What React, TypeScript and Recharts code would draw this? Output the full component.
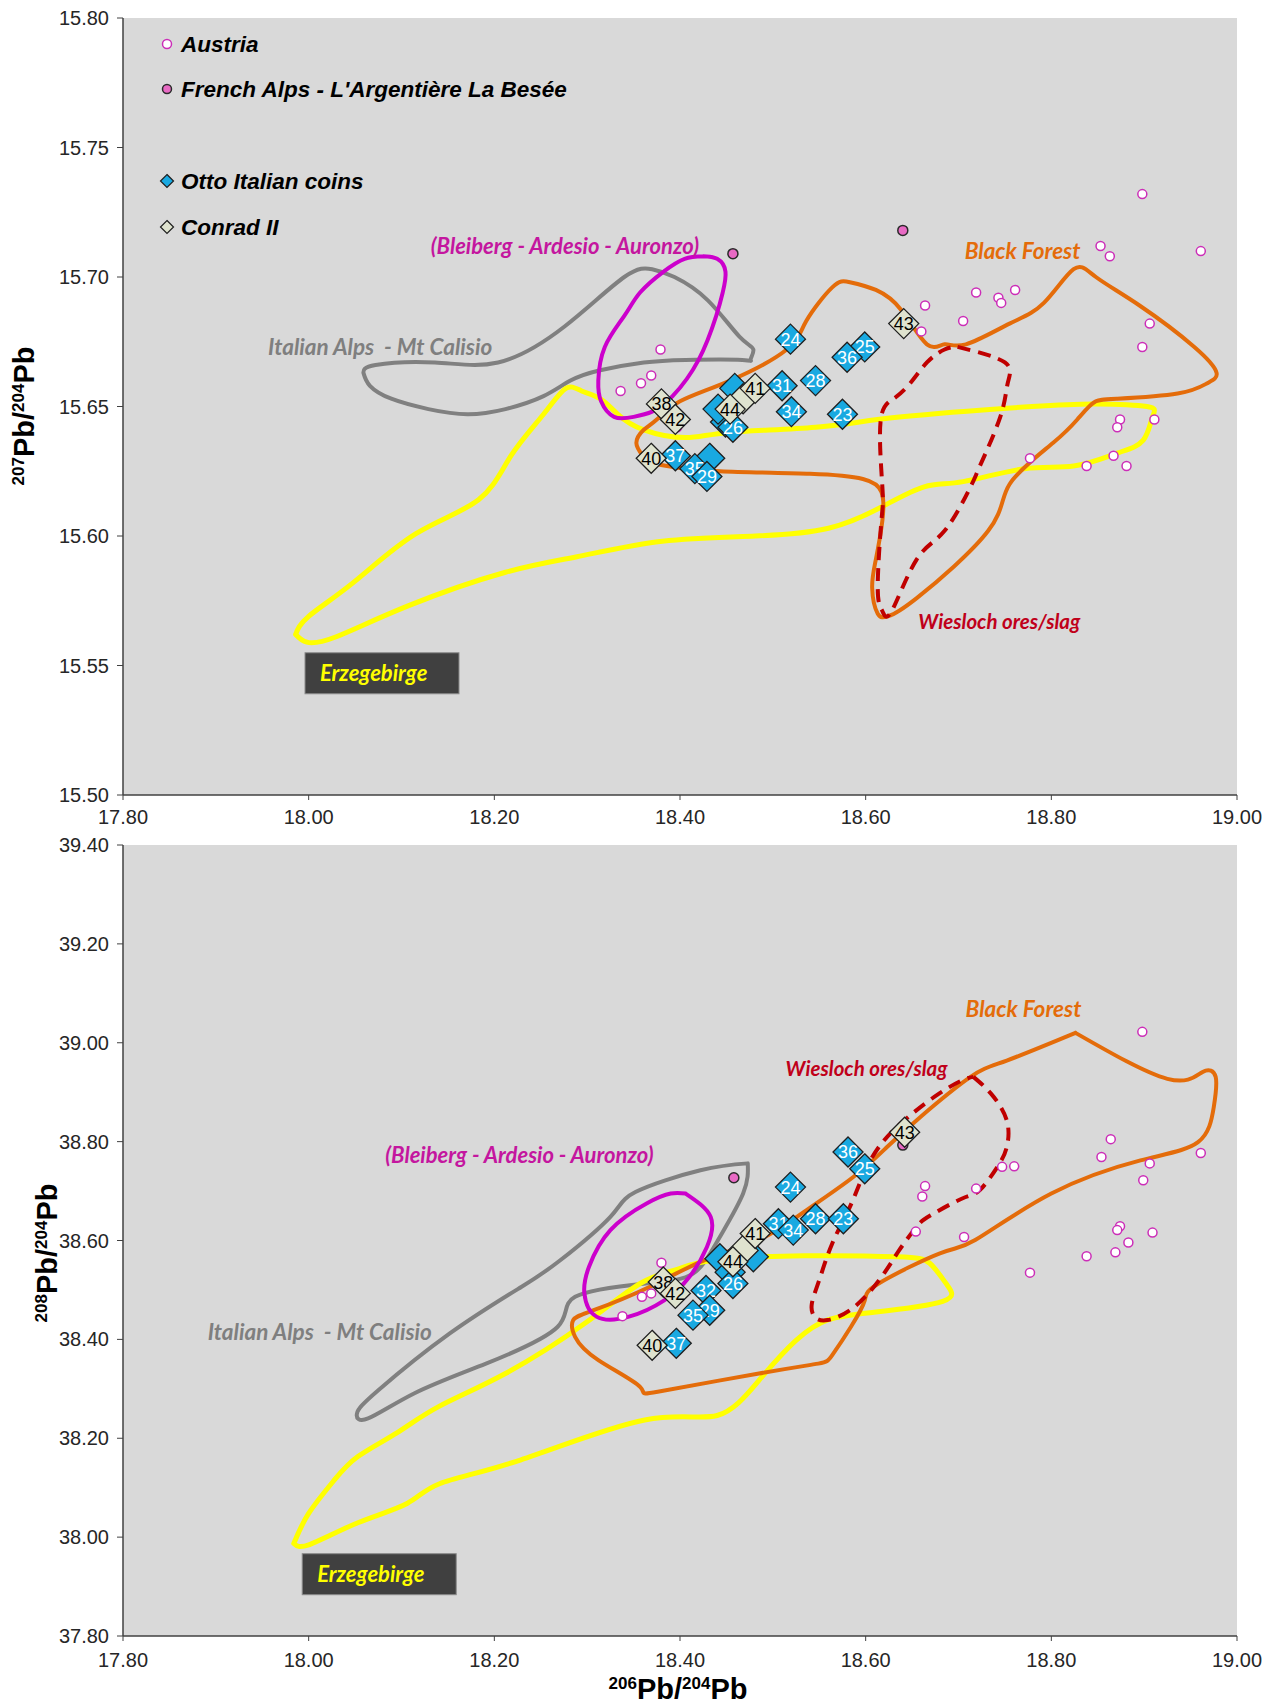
import React from 'react';
import { ScatterChart, Scatter, XAxis, YAxis, CartesianGrid } from 'recharts';

// ---------- axis ticks ----------
const xTicks = [17.8, 18.0, 18.2, 18.4, 18.6, 18.8, 19.0];
const y207Ticks = [15.5, 15.55, 15.6, 15.65, 15.7, 15.75, 15.8];
const y208Ticks = [37.8, 38.0, 38.2, 38.4, 38.6, 38.8, 39.0, 39.2, 39.4];

// ---------- 207Pb/204Pb vs 206Pb/204Pb ----------
const austria207 = [
  [18.898, 15.732], [18.853, 15.712], [18.863, 15.708], [18.961, 15.710], [18.664, 15.689],
  [18.719, 15.694], [18.743, 15.692], [18.746, 15.690], [18.761, 15.695], [18.705, 15.683],
  [18.660, 15.679], [18.906, 15.682], [18.898, 15.673], [18.874, 15.645], [18.871, 15.642],
  [18.911, 15.645], [18.777, 15.630], [18.838, 15.627], [18.867, 15.631], [18.881, 15.627],
  [18.379, 15.672], [18.369, 15.662], [18.358, 15.659], [18.336, 15.656], [18.397, 15.642],
];
const frenchAlps207 = [[18.457, 15.709], [18.640, 15.718]];
const otto207 = [
  { id: '', x: 18.432, y: 15.630 }, { id: '', x: 18.449, y: 15.644 }, { id: '', x: 18.441, y: 15.649 },
  { id: '', x: 18.459, y: 15.657 }, { id: '24', x: 18.519, y: 15.676 }, { id: '25', x: 18.599, y: 15.673 },
  { id: '36', x: 18.580, y: 15.669 }, { id: '31', x: 18.510, y: 15.658 }, { id: '28', x: 18.546, y: 15.660 },
  { id: '34', x: 18.520, y: 15.648 }, { id: '23', x: 18.575, y: 15.647 }, { id: '26', x: 18.457, y: 15.642 },
  { id: '37', x: 18.395, y: 15.631 }, { id: '35', x: 18.416, y: 15.626 }, { id: '29', x: 18.429, y: 15.623 },
];
const conrad207 = [
  { id: '', x: 18.468, y: 15.653 }, { id: '41', x: 18.481, y: 15.657 }, { id: '44', x: 18.454, y: 15.649 },
  { id: '38', x: 18.380, y: 15.651 }, { id: '42', x: 18.395, y: 15.645 }, { id: '40', x: 18.369, y: 15.630 },
  { id: '43', x: 18.641, y: 15.682 },
];
const italianAlps207 = [
  [18.059, 15.663], [18.072, 15.666], [18.136, 15.667], [18.204, 15.667], [18.276, 15.681], [18.340, 15.700],
  [18.370, 15.703], [18.394, 15.700], [18.430, 15.691], [18.464, 15.677], [18.479, 15.672], [18.476, 15.668],
  [18.467, 15.668], [18.406, 15.668], [18.361, 15.667], [18.314, 15.664], [18.282, 15.660], [18.253, 15.654],
  [18.212, 15.649], [18.171, 15.647], [18.129, 15.649], [18.089, 15.653], [18.066, 15.658], [18.059, 15.663],
];
const bleiberg207 = [
  [18.425, 15.708], [18.440, 15.707], [18.449, 15.702], [18.446, 15.694], [18.439, 15.685], [18.420, 15.668],
  [18.392, 15.654], [18.370, 15.648], [18.350, 15.646], [18.329, 15.646], [18.315, 15.652], [18.312, 15.660],
  [18.319, 15.673], [18.340, 15.685], [18.357, 15.694], [18.382, 15.702], [18.405, 15.707], [18.425, 15.708],
];
const erz207 = [
  [17.986, 15.562], [18.000, 15.569], [18.048, 15.582], [18.116, 15.601], [18.183, 15.614], [18.218, 15.631],
  [18.253, 15.647], [18.277, 15.657], [18.294, 15.656], [18.314, 15.653], [18.333, 15.647], [18.361, 15.641],
  [18.406, 15.638], [18.453, 15.640], [18.546, 15.642], [18.639, 15.646], [18.779, 15.650], [18.848, 15.651],
  [18.903, 15.650], [18.909, 15.646], [18.899, 15.637], [18.871, 15.632], [18.824, 15.627], [18.771, 15.626],
  [18.705, 15.621], [18.663, 15.619], [18.616, 15.611], [18.560, 15.603], [18.481, 15.600], [18.381, 15.598],
  [18.289, 15.592], [18.212, 15.586], [18.107, 15.573], [18.029, 15.561], [17.998, 15.559], [17.986, 15.562],
];
const blackForest207 = [
  [18.360, 15.631], [18.353, 15.636], [18.361, 15.641], [18.375, 15.645], [18.400, 15.652], [18.454, 15.660],
  [18.515, 15.672], [18.536, 15.683], [18.564, 15.696], [18.583, 15.698], [18.611, 15.695], [18.639, 15.687],
  [18.666, 15.674], [18.685, 15.674], [18.708, 15.674], [18.755, 15.682], [18.792, 15.690], [18.824, 15.703],
  [18.848, 15.700], [18.895, 15.689], [18.954, 15.673], [18.978, 15.663], [18.968, 15.659], [18.936, 15.655],
  [18.871, 15.653], [18.848, 15.652], [18.838, 15.649], [18.828, 15.645], [18.802, 15.636], [18.755, 15.620],
  [18.732, 15.602], [18.655, 15.576], [18.624, 15.569], [18.613, 15.570], [18.607, 15.580], [18.611, 15.591],
  [18.618, 15.606], [18.617, 15.617], [18.597, 15.622], [18.540, 15.624], [18.443, 15.625], [18.386, 15.627],
  [18.367, 15.629], [18.360, 15.631],
];
const wiesloch207 = [
  [18.699, 15.673], [18.750, 15.667], [18.753, 15.659], [18.745, 15.646], [18.723, 15.627], [18.713, 15.619],
  [18.685, 15.602], [18.655, 15.591], [18.628, 15.571], [18.618, 15.571], [18.613, 15.580], [18.617, 15.606],
  [18.618, 15.619], [18.616, 15.644], [18.630, 15.653], [18.648, 15.659], [18.666, 15.667], [18.685, 15.672],
  [18.699, 15.673],
];
const notes207 = [
  { key: 'bleiberg', text: '(Bleiberg - Ardesio - Auronzo)', x: 18.276, y: 15.712 },
  { key: 'italian', text: 'Italian Alps  - Mt Calisio', x: 18.077, y: 15.673 },
  { key: 'blackforest', text: 'Black Forest', x: 18.769, y: 15.710 },
  { key: 'wiesloch', text: 'Wiesloch ores/slag', x: 18.744, y: 15.567 },
];
const erzLabel207 = [{ text: 'Erzegebirge', x: 18.079, y: 15.547 }];

// ---------- 208Pb/204Pb vs 206Pb/204Pb ----------
const austria208 = [
  [18.898, 39.022], [18.864, 38.805], [18.854, 38.769], [18.961, 38.777], [18.906, 38.756],
  [18.899, 38.722], [18.747, 38.749], [18.760, 38.750], [18.664, 38.710], [18.661, 38.689],
  [18.719, 38.705], [18.654, 38.618], [18.706, 38.607], [18.874, 38.629], [18.871, 38.621],
  [18.883, 38.596], [18.909, 38.616], [18.838, 38.568], [18.869, 38.576], [18.777, 38.535],
  [18.380, 38.555], [18.359, 38.486], [18.369, 38.493], [18.338, 38.447], [18.396, 38.490],
];
const frenchAlps208 = [[18.458, 38.727], [18.640, 38.793]];
const otto208 = [
  { id: '36', x: 18.581, y: 38.779 }, { id: '25', x: 18.599, y: 38.745 }, { id: '24', x: 18.519, y: 38.708 },
  { id: '31', x: 18.506, y: 38.634 }, { id: '34', x: 18.522, y: 38.621 }, { id: '28', x: 18.546, y: 38.644 },
  { id: '23', x: 18.576, y: 38.644 }, { id: '', x: 18.443, y: 38.563 }, { id: '', x: 18.479, y: 38.567 },
  { id: '', x: 18.454, y: 38.536 }, { id: '26', x: 18.457, y: 38.513 }, { id: '32', x: 18.428, y: 38.499 },
  { id: '29', x: 18.432, y: 38.459 }, { id: '35', x: 18.414, y: 38.449 }, { id: '37', x: 18.396, y: 38.392 },
];
const conrad208 = [
  { id: '', x: 18.468, y: 38.580 }, { id: '41', x: 18.481, y: 38.614 }, { id: '44', x: 18.457, y: 38.557 },
  { id: '38', x: 18.382, y: 38.516 }, { id: '42', x: 18.395, y: 38.493 }, { id: '40', x: 18.370, y: 38.388 },
  { id: '43', x: 18.642, y: 38.819 },
];
const italianAlps208 = [
  [18.473, 38.756], [18.422, 38.742], [18.352, 38.698], [18.325, 38.648], [18.271, 38.560], [18.229, 38.506],
  [18.152, 38.412], [18.075, 38.297], [18.052, 38.250], [18.064, 38.240], [18.114, 38.291], [18.191, 38.351],
  [18.268, 38.425], [18.287, 38.486], [18.363, 38.513], [18.414, 38.533], [18.441, 38.601], [18.468, 38.695],
  [18.473, 38.756],
];
const bleiberg208 = [
  [18.406, 38.695], [18.433, 38.648], [18.429, 38.587], [18.410, 38.526], [18.383, 38.479], [18.345, 38.446],
  [18.310, 38.446], [18.297, 38.493], [18.302, 38.547], [18.325, 38.621], [18.364, 38.675], [18.390, 38.695],
  [18.406, 38.695],
];
const erz208 = [
  [17.984, 37.987], [18.000, 38.048], [18.027, 38.114], [18.053, 38.163], [18.095, 38.211], [18.140, 38.264],
  [18.213, 38.332], [18.298, 38.433], [18.358, 38.514], [18.396, 38.541], [18.436, 38.560], [18.534, 38.569],
  [18.634, 38.567], [18.669, 38.554], [18.687, 38.512], [18.683, 38.477], [18.609, 38.455], [18.560, 38.440],
  [18.525, 38.398], [18.485, 38.317], [18.440, 38.246], [18.362, 38.237], [18.228, 38.156], [18.141, 38.108],
  [18.106, 38.068], [18.053, 38.029], [18.001, 37.985], [17.984, 37.987],
];
const blackForest208 = [
  [18.826, 39.020], [18.925, 38.927], [18.963, 38.941], [18.977, 38.931], [18.975, 38.870], [18.958, 38.799],
  [18.896, 38.762], [18.800, 38.695], [18.718, 38.601], [18.680, 38.574], [18.614, 38.513], [18.599, 38.479],
  [18.584, 38.425], [18.564, 38.368], [18.549, 38.351], [18.485, 38.331], [18.376, 38.294], [18.357, 38.304],
  [18.312, 38.358], [18.287, 38.405], [18.285, 38.439], [18.307, 38.459], [18.367, 38.506], [18.426, 38.560],
  [18.485, 38.601], [18.536, 38.661], [18.587, 38.729], [18.623, 38.789], [18.659, 38.850], [18.713, 38.931],
  [18.752, 38.964], [18.826, 39.020],
];
const wiesloch208 = [
  [18.716, 38.931], [18.735, 38.897], [18.752, 38.843], [18.752, 38.789], [18.742, 38.749], [18.723, 38.702],
  [18.704, 38.685], [18.670, 38.651], [18.655, 38.628], [18.636, 38.580], [18.617, 38.526], [18.588, 38.466],
  [18.559, 38.439], [18.545, 38.446], [18.542, 38.472], [18.550, 38.520], [18.564, 38.594], [18.583, 38.668],
  [18.598, 38.735], [18.617, 38.796], [18.646, 38.850], [18.679, 38.897], [18.704, 38.924], [18.716, 38.931],
];
const notes208 = [
  { key: 'bleiberg', text: '(Bleiberg - Ardesio - Auronzo)', x: 18.227, y: 38.772 },
  { key: 'italian', text: 'Italian Alps  - Mt Calisio', x: 18.012, y: 38.415 },
  { key: 'blackforest', text: 'Black Forest', x: 18.770, y: 39.069 },
  { key: 'wiesloch', text: 'Wiesloch ores/slag', x: 18.601, y: 38.948 },
];
const erzLabel208 = [{ text: 'Erzegebirge', x: 18.076, y: 37.925 }];

// ---------- styles ----------
const FONT = "'Liberation Sans', Arial, Helvetica, sans-serif";
const NOTE_FONT = "Lato, 'Open Sans', 'Noto Sans', sans-serif";
const C = {
  bg: '#d9d9d9',
  axis: '#404040',
  gray: '#808080',
  magenta: '#cc00cc',
  yellow: '#ffff00',
  orange: '#e46c0a',
  darkRed: '#c00000',
  austria: '#cc2eb8',
  french: '#e86ac4',
  otto: '#19a9e1',
  conrad: '#dfe3cf',
};
const NOTE_STYLES: Record<string, { color: string; size: number }> = {
  bleiberg: { color: '#c4169f', size: 22 },
  italian: { color: '#7f7f7f', size: 22.5 },
  blackforest: { color: '#e46c0a', size: 22.5 },
  wiesloch: { color: '#c0001a', size: 20.5 },
};

const toPts = (arr: number[][]) => arr.map(([x, y]) => ({ x, y }));

const NoShape = () => <g />;

const AustriaShape = (p: any) => (
  <circle cx={p.cx} cy={p.cy} r={4.5} fill="#ffffff" stroke={C.austria} strokeWidth={1.5} />
);
const FrenchShape = (p: any) => (
  <circle cx={p.cx} cy={p.cy} r={5} fill={C.french} stroke="#2a2a2a" strokeWidth={1.5} />
);
const makeDiamond = (fill: string, textColor: string) => (p: any) => {
  const { cx, cy, payload } = p;
  const h = 15;
  return (
    <g>
      <path
        d={`M${cx},${cy - h}L${cx + h},${cy}L${cx},${cy + h}L${cx - h},${cy}Z`}
        fill={fill}
        stroke="#1f1f1f"
        strokeWidth={1.3}
      />
      {payload.id ? (
        <text x={cx} y={cy} dy="0.36em" textAnchor="middle" fontSize={18} fontFamily={FONT} fill={textColor}>
          {payload.id}
        </text>
      ) : null}
    </g>
  );
};
const OttoShape = makeDiamond(C.otto, '#ffffff');
const ConradShape = makeDiamond(C.conrad, '#000000');

const NoteShape = (p: any) => {
  const st = NOTE_STYLES[p.payload.key];
  return (
    <text
      x={p.cx}
      y={p.cy}
      dy="0.35em"
      textAnchor="middle"
      fill={st.color}
      fontFamily={NOTE_FONT}
      fontWeight={700}
      fontStyle="italic"
      fontSize={st.size}
      style={{ whiteSpace: 'pre' }}
    >
      {p.payload.text}
    </text>
  );
};
const ErzShape = (p: any) => {
  const w = 154;
  const h = 41;
  return (
    <g>
      <rect x={p.cx - w / 2} y={p.cy - h / 2} width={w} height={h} fill="#404040" stroke="#8a8a8a" strokeWidth={1} />
      <text
        x={p.cx - w / 2 + 15}
        y={p.cy}
        dy="0.35em"
        fill="#ffff00"
        fontFamily={NOTE_FONT}
        fontWeight={700}
        fontStyle="italic"
        fontSize={22}
      >
        {p.payload.text}
      </text>
    </g>
  );
};

const outline = (data: number[][], stroke: string, width: number, dash?: string) => (
  <Scatter
    data={toPts(data)}
    shape={NoShape}
    lineJointType="natural"
    line={{
      stroke,
      strokeWidth: width,
      strokeDasharray: dash,
      strokeLinejoin: 'round',
      strokeLinecap: dash ? 'butt' : 'round',
    }}
    isAnimationActive={false}
    legendType="none"
  />
);

interface PanelProps {
  width: number;
  height: number;
  margin: { top: number; right: number; bottom: number; left: number };
  xHeight: number;
  xTickMargin: number;
  yDomain: [number, number];
  yTicks: number[];
  austria: number[][];
  french: number[][];
  otto: { id: string; x: number; y: number }[];
  conrad: { id: string; x: number; y: number }[];
  italian: number[][];
  bleiberg: number[][];
  erz: number[][];
  blackForest: number[][];
  wiesloch: number[][];
  notes: { key: string; text: string; x: number; y: number }[];
  erzLabel: { text: string; x: number; y: number }[];
}

const Panel = (pp: PanelProps) => (
  <ScatterChart width={pp.width} height={pp.height} margin={pp.margin}>
    <CartesianGrid horizontal={false} vertical={false} fill={C.bg} fillOpacity={1} stroke="none" />
    <XAxis
      type="number"
      dataKey="x"
      domain={[17.8, 19.0]}
      ticks={xTicks}
      interval={0}
      allowDataOverflow
      tickFormatter={(v: number) => v.toFixed(2)}
      height={pp.xHeight}
      tickSize={5}
      tickMargin={pp.xTickMargin}
      axisLine={{ stroke: C.axis, strokeWidth: 1.5 }}
      tickLine={{ stroke: C.axis, strokeWidth: 1 }}
      tick={{ fill: '#262626', fontSize: 20, fontFamily: FONT }}
    />
    <YAxis
      type="number"
      dataKey="y"
      domain={pp.yDomain}
      ticks={pp.yTicks}
      interval={0}
      allowDataOverflow
      tickFormatter={(v: number) => v.toFixed(2)}
      width={123}
      tickSize={6}
      tickMargin={8}
      axisLine={{ stroke: C.axis, strokeWidth: 1.5 }}
      tickLine={{ stroke: C.axis, strokeWidth: 1 }}
      tick={{ fill: '#262626', fontSize: 20, fontFamily: FONT }}
    />
    {outline(pp.italian, C.gray, 4)}
    {outline(pp.erz, C.yellow, 5)}
    {outline(pp.blackForest, C.orange, 4)}
    {outline(pp.bleiberg, C.magenta, 4)}
    {outline(pp.wiesloch, C.darkRed, 4, '13 8')}
    <Scatter data={toPts(pp.austria)} shape={AustriaShape} isAnimationActive={false} />
    <Scatter data={toPts(pp.french)} shape={FrenchShape} isAnimationActive={false} />
    <Scatter data={pp.otto} shape={OttoShape} isAnimationActive={false} />
    <Scatter data={pp.conrad} shape={ConradShape} isAnimationActive={false} />
    <Scatter data={pp.notes} shape={NoteShape} isAnimationActive={false} />
    <Scatter data={pp.erzLabel} shape={ErzShape} isAnimationActive={false} />
  </ScatterChart>
);

const legendItems = [
  { key: 'austria', text: 'Austria' },
  { key: 'french', text: "French Alps - L'Argentière La Besée" },
  { key: 'otto', text: 'Otto Italian coins' },
  { key: 'conrad', text: 'Conrad II' },
];
const LEGEND_Y: Record<string, number> = { austria: 44, french: 89, otto: 181, conrad: 227 };

const LegendMarker = ({ kind, x, y }: { kind: string; x: number; y: number }) => {
  if (kind === 'austria') return <circle cx={x} cy={y} r={4.5} fill="#ffffff" stroke={C.austria} strokeWidth={1.5} />;
  if (kind === 'french') return <circle cx={x} cy={y} r={4.5} fill={C.french} stroke="#2a2a2a" strokeWidth={1.5} />;
  const fill = kind === 'otto' ? C.otto : C.conrad;
  const h = 6.5;
  return (
    <path d={`M${x},${y - h}L${x + h},${y}L${x},${y + h}L${x - h},${y}Z`} fill={fill} stroke="#1f1f1f" strokeWidth={1.2} />
  );
};

const IsoTitle = ({ a, b, x, y, rotate }: { a: string; b: string; x: number; y: number; rotate: boolean }) => (
  <text
    transform={`translate(${x},${y})${rotate ? ' rotate(-90)' : ''}`}
    textAnchor="middle"
    fontFamily={FONT}
    fontWeight={700}
    fill="#000"
  >
    <tspan fontSize={17} dy={-10}>{a}</tspan>
    <tspan fontSize={29} dy={10}>Pb/</tspan>
    <tspan fontSize={17} dy={-10}>{b}</tspan>
    <tspan fontSize={29} dy={10}>Pb</tspan>
  </text>
);

const BOTTOM_TOP = 815;

export default function App() {
  return (
    <div style={{ position: 'absolute', left: 0, top: 0, width: 1276, height: 1704, background: '#ffffff' }}>
      <div style={{ position: 'absolute', left: 0, top: 0 }}>
        <Panel
          width={1276}
          height={840}
          margin={{ top: 18, right: 39, bottom: 0, left: 0 }}
          xHeight={45}
          xTickMargin={10}
          yDomain={[15.5, 15.8]}
          yTicks={y207Ticks}
          austria={austria207}
          french={frenchAlps207}
          otto={otto207}
          conrad={conrad207}
          italian={italianAlps207}
          bleiberg={bleiberg207}
          erz={erz207}
          blackForest={blackForest207}
          wiesloch={wiesloch207}
          notes={notes207}
          erzLabel={erzLabel207}
        />
      </div>
      <div style={{ position: 'absolute', left: 0, top: BOTTOM_TOP }}>
        <Panel
          width={1276}
          height={1704 - BOTTOM_TOP}
          margin={{ top: 845 - BOTTOM_TOP, right: 39, bottom: 0, left: 0 }}
          xHeight={68}
          xTickMargin={12}
          yDomain={[37.8, 39.4]}
          yTicks={y208Ticks}
          austria={austria208}
          french={frenchAlps208}
          otto={otto208}
          conrad={conrad208}
          italian={italianAlps208}
          bleiberg={bleiberg208}
          erz={erz208}
          blackForest={blackForest208}
          wiesloch={wiesloch208}
          notes={notes208}
          erzLabel={erzLabel208}
        />
      </div>
      <svg
        width={1276}
        height={1704}
        style={{ position: 'absolute', left: 0, top: 0, pointerEvents: 'none' }}
      >
        {legendItems.map((it) => (
          <g key={it.key}>
            <LegendMarker kind={it.key} x={167} y={LEGEND_Y[it.key]} />
            <text
              x={181}
              y={LEGEND_Y[it.key]}
              dy="0.36em"
              fontFamily={FONT}
              fontWeight={700}
              fontStyle="italic"
              fontSize={22.5}
              fill="#000"
            >
              {it.text}
            </text>
          </g>
        ))}
        <IsoTitle a="207" b="204" x={34} y={416} rotate />
        <IsoTitle a="208" b="204" x={57} y={1253} rotate />
        <IsoTitle a="206" b="204" x={678} y={1699} rotate={false} />
      </svg>
    </div>
  );
}
